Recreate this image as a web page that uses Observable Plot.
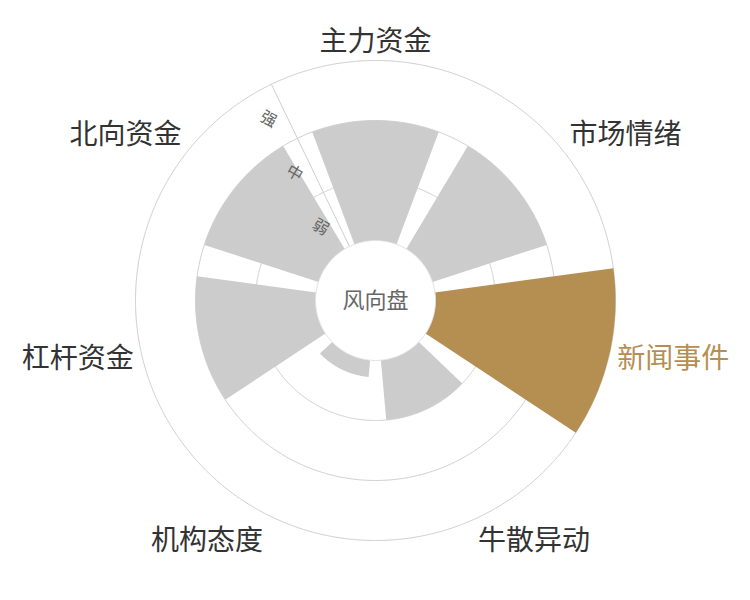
<!DOCTYPE html>
<html>
<head>
<meta charset="utf-8">
<script src="https://cdn.jsdelivr.net/npm/d3@7"></script>
<script src="https://cdn.jsdelivr.net/npm/@observablehq/plot@0.6"></script>
<style>
  body { margin: 0; background: #fff; }
  #chart { width: 750px; height: 600px; }
</style>
</head>
<body>
<div id="chart"></div>
<script>
// ---- data ----
const categories = ["主力资金", "市场情绪", "新闻事件", "牛散异动", "机构态度", "杠杆资金", "北向资金"];
const values = [2, 2, 3, 1, 0.28, 2, 2];
const levels = ["弱", "中", "强"];
const highlighted = "新闻事件";
const centerLabel = "风向盘";

// ---- styling ----
const gray = "#cccccc";
const gold = "#b58f52";
const gridColor = "#cfcfcf";

// ---- polar helpers (longitude = angle, colatitude = radius) ----
const n = categories.length;
const step = 360 / n;
const barFraction = 0.8;
const radius = d3.scaleLinear().domain([0, levels.length]).range([6, 24]); // degrees of colatitude
const lonOf = theta => 180 - theta;          // theta: clockwise from top
const latOf = v => 90 - radius(v);

function arc(theta0, theta1, v) {
  const k = Math.max(2, Math.ceil(Math.abs(theta1 - theta0)));
  return d3.range(k + 1).map(i => [lonOf(theta0 + (theta1 - theta0) * i / k), latOf(v)]);
}

const bars = categories.map((c, i) => ({category: c, value: values[i], theta: i * step}));

function barGeometry(d) {
  const h = step * barFraction / 2;
  const inner = arc(d.theta + h, d.theta - h, 0);       // lon increasing
  const outer = arc(d.theta - h, d.theta + h, d.value); // lon decreasing
  const ring = [...inner, ...outer, inner[0]];
  return {type: "Polygon", coordinates: [ring]};
}

const gridLevels = d3.range(1, levels.length + 1);
const circle = v => d3.geoCircle().center([0, 90]).radius(radius(v)).precision(0.5)();
const axisTheta = -step / 2;

// label layout (like an angle axis: align by direction)
const labelR = 24.8;
const labels = categories.map((c, i) => {
  const t = i * step * Math.PI / 180;
  const sx = Math.sin(t), cy = Math.cos(t);
  const h = Math.abs(sx) < 0.3 ? "middle" : sx > 0 ? "start" : "end";
  const v = Math.abs(cy) < 0.3 ? "middle" : cy > 0 ? "bottom" : "top";
  return {category: c, lon: lonOf(i * step), lat: 90 - labelR, h, v};
});
const vShift = {bottom: -2, middle: 3, top: 6};
const hShift = {bottom: 0, middle: 0, top: -5};
const labelMarks = [];
for (const h of ["start", "middle", "end"]) {
  for (const v of ["top", "middle", "bottom"]) {
    const group = labels.filter(d => d.h === h && d.v === v);
    if (!group.length) continue;
    labelMarks.push(Plot.text(group, {
      x: "lon", y: "lat", text: "category",
      textAnchor: h, lineAnchor: v, dy: vShift[v], dx: hShift[v],
      fontSize: 28,
      fill: d => d.category === highlighted ? gold : "#333333"
    }));
  }
}

const chart = Plot.plot({
  width: 750,
  height: 600,
  margin: 0,
  projection: {
    type: "azimuthal-equidistant",
    rotate: [0, -90],
    domain: {type: "MultiPoint", coordinates: [[0, 60], [90, 60], [180, 60], [-90, 60]]}
  },
  color: {type: "identity"},
  style: {fontFamily: '"Noto Sans CJK SC", "Noto Sans", sans-serif', background: "#fff"},
  marks: [
    // grid circles
    Plot.geo(gridLevels, {geometry: v => circle(v), fill: "none", stroke: gridColor, strokeWidth: 1}),
    // radial axis line
    Plot.geo([axisTheta], {
      geometry: t => ({type: "LineString", coordinates: [[lonOf(t), latOf(0)], [lonOf(t), latOf(levels.length)]]}),
      stroke: gridColor, strokeWidth: 1
    }),
    // bars
    Plot.geo(bars, {
      geometry: barGeometry,
      fill: d => d.category === highlighted ? gold : gray,
      stroke: "none"
    }),
    // center hole
    Plot.geo([0], {geometry: () => circle(0), fill: "#fff", stroke: "#dddddd", strokeWidth: 1}),
    // radius axis labels
    Plot.text(levels, {
      x: () => lonOf(axisTheta),
      y: (d, i) => latOf(i + 0.5),
      text: d => d,
      rotate: 30,
      dx: -16, dy: 8,
      fontSize: 16,
      fill: "#666666"
    }),
    // center label
    Plot.text([centerLabel], {x: () => 0, y: () => 90, text: d => d, fontSize: 22, fill: "#666666"}),
    ...labelMarks
  ]
});
document.getElementById("chart").appendChild(chart);
</script>
</body>
</html>
